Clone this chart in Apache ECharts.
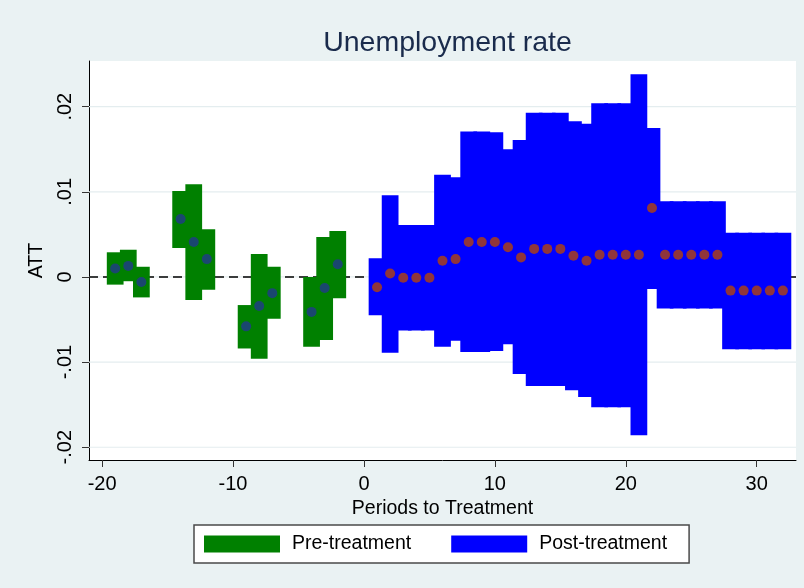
<!DOCTYPE html>
<html>
<head>
<meta charset="utf-8">
<script src="https://cdn.jsdelivr.net/npm/echarts@6/dist/echarts.min.js"></script>
<style>
  html, body { margin: 0; padding: 0; background: #eaf2f3; }
  #chart { width: 804px; height: 588px; }
</style>
</head>
<body>
<div id="chart"></div>
<script>
// Event-study estimates of the unemployment rate effect, by period relative to treatment.
const preX   = [-19, -18, -17, -14, -13, -12, -9, -8, -7, -4, -3, -2];
const preATT = [0.0010, 0.0013, -0.0006, 0.0068, 0.0041, 0.0021, -0.0058, -0.0034, -0.0019, -0.0041, -0.0013, 0.0015];
const preLo  = [-0.0009, -0.0005, -0.0024, 0.0034, -0.0027, -0.0015, -0.0084, -0.0096, -0.0049, -0.0082, -0.0074, -0.0025];
const preHi  = [0.0029, 0.0032, 0.0012, 0.0101, 0.0109, 0.0056, -0.0033, 0.0027, 0.0012, 0.0000, 0.0047, 0.0054];

const postX   = [1, 2, 3, 4, 5, 6, 7, 8, 9, 10, 11, 12, 13, 14, 15, 16,
                 17, 18, 19, 20, 21, 22, 23, 24, 25, 26, 27, 28, 29, 30, 31, 32];
const postATT = [-0.0012, 0.0004, -0.0001, -0.0001, -0.0001, 0.0019, 0.0021, 0.0041, 0.0041, 0.0041, 0.0035, 0.0023, 0.0033, 0.0033, 0.0033, 0.0025,
                 0.0019, 0.0026, 0.0026, 0.0026, 0.0026, 0.0081, 0.0026, 0.0026, 0.0026, 0.0026, 0.0026, -0.0016, -0.0016, -0.0016, -0.0016, -0.0016];
const postLo  = [-0.0045, -0.0089, -0.0063, -0.0063, -0.0063, -0.0082, -0.0075, -0.0088, -0.0088, -0.0087, -0.0079, -0.0114, -0.0128, -0.0128, -0.0128, -0.0133,
                 -0.0141, -0.0153, -0.0153, -0.0153, -0.0186, -0.0014, -0.0037, -0.0037, -0.0037, -0.0037, -0.0037, -0.0085, -0.0085, -0.0085, -0.0085, -0.0085];
const postHi  = [0.0022, 0.0096, 0.0061, 0.0061, 0.0061, 0.0120, 0.0117, 0.0171, 0.0171, 0.0170, 0.0150, 0.0161, 0.0193, 0.0193, 0.0193, 0.0183,
                 0.0180, 0.0204, 0.0204, 0.0204, 0.0238, 0.0175, 0.0089, 0.0089, 0.0089, 0.0089, 0.0089, 0.0052, 0.0052, 0.0052, 0.0052, 0.0052];

const xTicks = [-20, -10, 0, 10, 20, 30];
const yTicks = [-0.02, -0.01, 0, 0.01, 0.02];
const refLine = [0];   // no-effect reference level

const FONT = '"Liberation Sans", Arial, sans-serif';
const BAND_HALF = 0.64;   // half-width of each confidence block, in periods

const bandData = (xs, lo, hi) => xs.map((x, i) => [x, lo[i], hi[i]]);
const dotData = (xs, ys) => xs.map((x, i) => [x, ys[i]]);

function bandRenderer(color) {
  return function (params, api) {
    const x = api.value(0);
    const tl = api.coord([x - BAND_HALF, api.value(2)]);
    const br = api.coord([x + BAND_HALF, api.value(1)]);
    return {
      type: 'rect',
      shape: { x: tl[0], y: tl[1], width: br[0] - tl[0], height: br[1] - tl[1] },
      style: { fill: color }
    };
  };
}

// full-width horizontal rule at a y value
function hRuleRenderer(style) {
  return function (params, api) {
    const cs = params.coordSys;
    const y = api.coord([0, api.value(0)])[1];
    return {
      type: 'line',
      shape: { x1: cs.x, y1: y, x2: cs.x + cs.width, y2: y },
      style: Object.assign({ fill: null }, style)
    };
  };
}

const yFmt = v => {
  if (Math.abs(v) < 1e-12) return '0';
  const s = String(+Math.abs(v).toFixed(4)).replace(/^0/, '');
  return (v < 0 ? '-' : '') + s;
};

const chart = echarts.init(document.getElementById('chart'), null, { renderer: 'canvas' });
chart.setOption({
  backgroundColor: '#eaf2f3',
  animation: false,
  title: {
    text: 'Unemployment rate',
    left: 442.5,
    textAlign: 'center',
    top: 24,
    textStyle: { fontFamily: FONT, fontSize: 28.5, fontWeight: 'normal', color: '#1a2b4c' }
  },
  grid: {
    left: 89, right: 8, top: 61, bottom: 128,
    show: true, backgroundColor: '#ffffff', borderWidth: 0
  },
  legend: {
    left: 194, top: 525,
    padding: [9, 22, 9, 10],
    itemGap: 40,
    itemWidth: 76, itemHeight: 17,
    backgroundColor: '#ffffff',
    borderColor: '#4a4a4a', borderWidth: 1.5, borderRadius: 0,
    selectedMode: false,
    textStyle: { fontFamily: FONT, fontSize: 19.5, color: '#000', padding: [0, 0, 0, 7], lineHeight: 20 },
    data: [
      { name: 'Pre-treatment', icon: 'rect' },
      { name: 'Post-treatment', icon: 'rect' }
    ]
  },
  xAxis: {
    type: 'value',
    min: -21, max: 33,
    name: 'Periods to Treatment',
    nameLocation: 'middle',
    nameGap: 34,
    nameTextStyle: { fontFamily: FONT, fontSize: 19.5, color: '#000' },
    axisLine: { show: true, onZero: false, lineStyle: { color: '#000', width: 1 } },
    axisTick: { show: true, length: 7, customValues: xTicks, lineStyle: { color: '#333', width: 1 } },
    axisLabel: { customValues: xTicks, margin: 14, fontFamily: FONT, fontSize: 20, color: '#000' },
    splitLine: { show: false }
  },
  yAxis: {
    type: 'value',
    min: -0.0215, max: 0.02537,
    name: 'ATT',
    nameLocation: 'middle',
    nameRotate: 90,
    nameGap: 33,
    nameTextStyle: { fontFamily: FONT, fontSize: 19.5, color: '#000' },
    axisLine: { show: true, onZero: false, lineStyle: { color: '#000', width: 1 } },
    axisTick: { show: true, length: 7, customValues: yTicks, lineStyle: { color: '#333', width: 1 } },
    axisLabel: { customValues: yTicks, rotate: 90, margin: 14, fontFamily: FONT, fontSize: 20, color: '#000', formatter: yFmt },
    splitLine: { show: false }
  },
  series: [
    {
      name: 'grid lines',
      type: 'custom',
      z: 1,
      silent: true,
      encode: { y: 0 },
      renderItem: hRuleRenderer({ stroke: '#e4edef', lineWidth: 1.2 }),
      data: yTicks.map(v => [v])
    },
    {
      name: 'zero line',
      type: 'custom',
      z: 2,
      silent: true,
      encode: { y: 0 },
      renderItem: hRuleRenderer({ stroke: '#000', lineWidth: 1.6, lineDash: [9, 5] }),
      data: refLine.map(v => [v])
    },
    {
      name: 'Pre-treatment',
      type: 'custom',
      z: 3,
      itemStyle: { color: '#008000' },
      encode: { x: 0, y: [1, 2] },
      renderItem: bandRenderer('#008000'),
      data: bandData(preX, preLo, preHi)
    },
    {
      name: 'Post-treatment',
      type: 'custom',
      z: 3,
      itemStyle: { color: '#0000ff' },
      encode: { x: 0, y: [1, 2] },
      renderItem: bandRenderer('#0000ff'),
      data: bandData(postX, postLo, postHi)
    },
    {
      name: 'Pre ATT',
      type: 'scatter',
      z: 4,
      symbol: 'circle',
      symbolSize: 10,
      itemStyle: { color: '#1a476f', opacity: 1 },
      data: dotData(preX, preATT)
    },
    {
      name: 'Post ATT',
      type: 'scatter',
      z: 4,
      symbol: 'circle',
      symbolSize: 10,
      itemStyle: { color: '#90353b', opacity: 1 },
      data: dotData(postX, postATT)
    }
  ]
});
</script>
</body>
</html>
